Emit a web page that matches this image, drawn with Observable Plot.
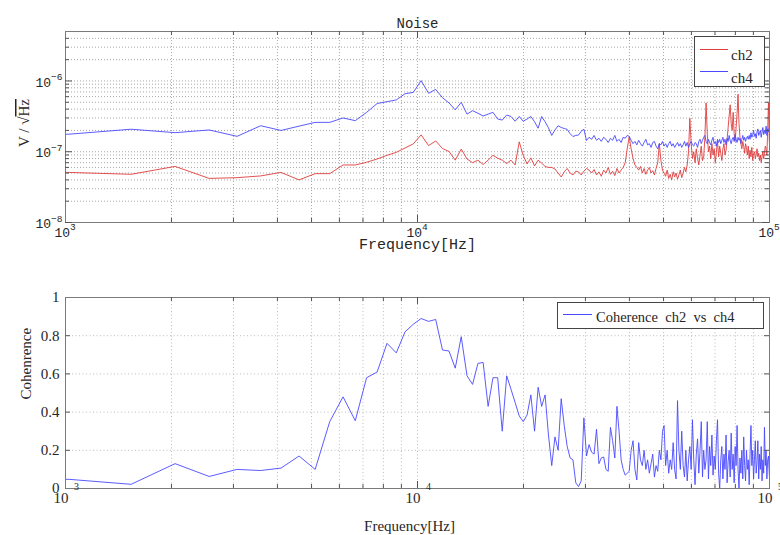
<!DOCTYPE html>
<html><head><meta charset="utf-8">
<script src="https://cdn.jsdelivr.net/npm/d3@7"></script>
<script src="https://cdn.jsdelivr.net/npm/@observablehq/plot@0.6"></script>
<style>
body{margin:0;background:#fff;}
#wrap{position:relative;width:780px;height:535px;overflow:hidden;background:#fff;}
#wrap svg{position:absolute;left:0;overflow:visible;background:transparent;}
</style></head><body><div id="wrap"></div>
<script>
// FFT bin spacing (Hz); bin k sits at k * binHz, k = 1..196
const binHz = 512;

// ch2 noise density, units of 1e-7 V/sqrt(Hz)
const ch2 = [0.5,0.51,0.48,0.62,0.42,0.43,0.455,0.51,0.40,0.49,
0.49,0.65,0.65,0.71,0.79,0.89,0.98,1.13,1.29,1.73,
1.22,1.42,1.11,1.01,0.76,1.09,0.79,0.70,0.76,0.66,
0.76,0.89,0.81,0.76,0.68,0.76,0.65,1.38,0.89,0.67,
0.82,0.63,0.76,0.69,0.62,0.60,0.60,0.57,0.50,0.44,
0.52,0.58,0.50,0.47,0.53,0.52,0.47,0.53,0.58,0.55,
0.5,0.56,0.47,0.52,0.45,0.55,0.5,0.6,0.48,0.53,0.46,0.58,0.5,0.55,0.6,
0.7,1.1,1.62,1.1,0.8,0.65,
0.6,0.55,0.62,0.5,0.58,0.48,0.55,0.6,0.5,0.54,0.47,0.58,0.7,
1.3,0.75,0.55,
0.5,0.45,0.55,0.42,0.48,0.4,0.52,0.44,0.5,0.41,0.47,0.55,0.43,0.5,0.6,0.52,0.65,1.0,
2.95,1.3,0.8,
1.0,0.7,1.1,0.8,0.65,0.9,1.2,0.75,0.85,1.6,
4.9,1.8,1.0,
1.2,0.8,1.3,0.9,1.1,0.7,1.0,1.4,0.85,1.2,0.95,0.75,1.1,1.3,0.9,1.05,1.5,2.2,3.2,
4.6,2.5,2.0,3.6,1.8,1.4,2.2,3.5,6.5,2.5,1.6,
1.3,1.1,1.4,1.2,0.95,1.3,1.15,0.9,1.2,0.8,1.05,0.85,1.15,0.75,0.95,1.0,0.8,0.9,1.1,0.85,
0.95,0.75,0.9,0.7,0.85,1.0,0.8,0.95,1.2,1.1,0.9,2.0,
4.9,1.5,0.9];

// ch4 noise density, units of 1e-7 V/sqrt(Hz)
const ch4 = [1.7,1.77,2.08,1.86,2.03,1.65,2.33,2.0,2.3,2.6,
2.6,3.0,2.75,3.6,4.8,5.1,5.4,6.6,6.9,10.1,
6.7,7.6,5.8,4.9,3.9,5.0,3.4,3.8,3.5,3.2,
3.4,3.6,2.9,2.8,3.3,3.15,2.7,3.15,2.7,2.9,
3.15,2.65,2.15,3.15,2.65,2.18,1.7,2.03,2.33,2.2,
2.13,2.07,1.8,1.64,1.7,1.72,1.95,2.08,1.44,1.6,
1.5,1.7,1.45,1.55,1.4,1.6,1.5,1.35,1.55,1.45,1.7,1.4,1.5,1.35,1.6,1.55,1.7,1.65,1.45,1.3,
1.4,1.25,1.45,1.3,1.2,1.35,1.5,1.25,1.3,1.15,1.35,1.4,1.2,1.1,1.3,1.25,1.4,1.2,1.3,1.15,1.3,1.4,1.2,1.3,1.15,1.25,1.35,1.2,1.3,1.15,
1.25,1.4,1.2,1.35,1.15,1.3,1.4,1.25,1.2,1.35,1.3,1.15,1.4,1.5,1.3,1.45,1.6,1.7,1.4,1.3,1.5,1.35,1.25,1.45,1.6,1.3,1.4,1.2,1.5,1.35,
1.5,1.3,1.45,1.6,1.35,1.5,1.25,1.55,1.4,1.7,1.45,1.3,1.5,1.6,1.4,1.75,1.5,1.35,1.6,1.45,1.55,1.3,1.5,1.7,1.45,1.6,1.4,1.55,1.65,1.5,
1.7,1.5,1.85,1.6,1.75,2.0,1.65,1.8,1.55,1.9,2.1,1.7,1.85,2.0,1.6,1.9,2.2,1.75,2.0,1.8,2.3,1.7,2.1,1.9,2.2,2.0];

// coherence ch2 vs ch4
const coherence = [0.05,0.048,0.022,0.13,0.063,0.10,0.094,0.107,0.17,0.10,
0.35,0.48,0.355,0.58,0.61,0.76,0.71,0.82,0.86,0.89,
0.875,0.885,0.725,0.72,0.63,0.795,0.59,0.545,0.655,0.66,
0.43,0.58,0.58,0.30,0.59,0.52,0.45,0.38,0.35,0.385,
0.49,0.30,0.53,0.43,0.49,0.28,0.12,0.27,0.20,0.47,
0.33,0.22,0.16,0.15,0.03,0.01,0.04,0.37,0.17,0.23,
0.19,0.18,0.31,0.13,0.16,0.165,0.10,0.09,0.32,0.25,
0.16,0.43,0.30,0.15,0.10,0.07,0.08,0.09,0.20,0.25,
0.10,0.045,0.24,0.15,
0.12,0.2,0.1,0.15,0.08,0.13,0.18,0.06,0.12,0.09,
0.2,0.15,0.3,0.33,0.12,0.2,0.08,0.15,0.1,0.24,
0.1,0.05,0.46,0.2,0.1,0.3,0.12,0.06,0.2,0.04,
0.15,0.22,0.1,0.36,0.15,0.02,0.18,0.26,0.08,0.2,
0.35,0.06,0.2,0.1,0.15,0.35,0.05,0.22,0.12,0.28,
0.07,0.17,0.1,0.25,0.36,0.08,0.0,0.15,0.22,0.05,
0.18,0.1,0.28,0.03,0.14,0.2,0.06,0.29,0.1,0.18,
0.03,0.22,0.12,0.33,0.1,0.0,0.16,0.08,0.2,0.05,
0.27,0.12,0.04,0.2,0.1,0.15,0.02,0.18,0.33,0.12,
0.2,0.05,0.15,0.25,0.08,0.14,0.25,0.05,0.18,0.1,
0.22,0.04,0.15,0.08,0.32,0.12,0.2,0.05,0.15,0.17,
0.08,0.01];

// ticks
const xMajor = [1e3, 1e4, 1e5];
const xTickBase = ["10", "10", "10"];
const xTickExp = ["3", "4", "5"];
const xMinor = [2e3,3e3,4e3,5e3,6e3,7e3,8e3,9e3,2e4,3e4,4e4,5e4,6e4,7e4,8e4,9e4];
const xGrid = [2e3,3e3,4e3,5e3,6e3,7e3,8e3,9e3,1e4,2e4,3e4,4e4,5e4,6e4,7e4,8e4,9e4];
const yMajorTop = [1e-8, 1e-7, 1e-6];
const yTickBaseTop = ["10", "10", "10"];
const yTickExpTop = ["\u22128", "\u22127", "\u22126"];
const yMinorTop = [2e-8,3e-8,4e-8,5e-8,6e-8,7e-8,8e-8,9e-8,2e-7,3e-7,4e-7,5e-7,6e-7,7e-7,8e-7,9e-7,2e-6,3e-6,4e-6];
const yGridTop = [2e-8,3e-8,4e-8,5e-8,6e-8,7e-8,8e-8,9e-8,1e-7,2e-7,3e-7,4e-7,5e-7,6e-7,7e-7,8e-7,9e-7,1e-6,2e-6,3e-6,4e-6];
const yTicksBot = [0, 0.2, 0.4, 0.6, 0.8, 1];
const yTickLabelsBot = ["0", "0.2", "0.4", "0.6", "0.8", "1"];
const yGridBot = [0.2, 0.4, 0.6, 0.8];

const rows = ch2.map((v, i) => ({f: (i + 1) * binHz, ch2: v * 1e-7, ch4: ch4[i] * 1e-7, coh: coherence[i]}));

const mono = "'Courier New', 'Liberation Mono', 'DejaVu Sans Mono', monospace";
const serif = "'Liberation Serif', 'DejaVu Serif', serif";
const RED = "#e03c3c", BLUE = "#4848ff";
const txt = "#262626";
const W = 780, ML = 65, MR = 11;
const FW = W - ML - MR;

// ---------- top ----------
const H1 = 262, MT1 = 31, MB1 = 40, FH1 = H1 - MT1 - MB1;
const gridStyle = {stroke: "#a8a8a8", strokeWidth: 1, strokeDasharray: "1,2"};
const tickStyle = {stroke: "#555", strokeWidth: 1};
const topChart = Plot.plot({
  width: W, height: H1, marginLeft: ML, marginRight: MR, marginTop: MT1, marginBottom: MB1,
  x: {type: "log", domain: [1e3, 1e5], axis: null},
  y: {type: "log", domain: [1e-8, 5e-6], axis: null},
  marks: [
    Plot.ruleX(xGrid, {x: d => d, ...gridStyle}),
    Plot.ruleY(yGridTop, {y: d => d, ...gridStyle}),
    Plot.line(rows, {x: "f", y: "ch2", stroke: RED, strokeWidth: 0.9, clip: true}),
    Plot.line(rows, {x: "f", y: "ch4", stroke: BLUE, strokeWidth: 0.9, clip: true}),
    Plot.frame({stroke: "#7a7a7a"}),
    Plot.tickY(yMinorTop, {y: d => d, ...tickStyle, insetRight: FW - 4}),
    Plot.tickY(yMinorTop, {y: d => d, ...tickStyle, insetLeft: FW - 4}),
    Plot.tickY(yMajorTop, {y: d => d, ...tickStyle, insetRight: FW - 7}),
    Plot.tickY(yMajorTop, {y: d => d, ...tickStyle, insetLeft: FW - 7}),
    Plot.tickX(xMinor, {x: d => d, ...tickStyle, insetTop: FH1 - 4}),
    Plot.tickX(xMinor, {x: d => d, ...tickStyle, insetBottom: FH1 - 4}),
    Plot.tickX([1e4], {x: d => d, ...tickStyle, insetTop: FH1 - 7}),
    Plot.tickX([1e4], {x: d => d, ...tickStyle, insetBottom: FH1 - 7}),
    Plot.text(xMajor, {x: d => d, text: xTickBase, frameAnchor: "bottom", textAnchor: "end", dx: 4.5, dy: 14, fontFamily: mono, fontSize: 13, fill: txt}),
    Plot.text(xMajor, {x: d => d, text: xTickExp, frameAnchor: "bottom", textAnchor: "start", dx: 4.5, dy: 7.5, fontFamily: mono, fontSize: 9.5, fill: txt}),
    Plot.text(yMajorTop, {y: d => d, text: yTickBaseTop, frameAnchor: "left", textAnchor: "end", dx: -14.5, dy: 1.5, fontFamily: mono, fontSize: 13, fill: txt}),
    Plot.text(yMajorTop, {y: d => d, text: yTickExpTop, frameAnchor: "left", textAnchor: "end", dx: -3, dy: -4, fontFamily: mono, fontSize: 9.5, fill: txt}),
    Plot.text(["Noise"], {frameAnchor: "top", dy: -13.5, fontFamily: mono, fontSize: 14, fill: txt}),
    Plot.text(["Frequency[Hz]"], {frameAnchor: "bottom", dy: 26.5, fontFamily: mono, fontSize: 15, fill: txt})
  ]
});
topChart.style.top = "0px";

// y label with overline on Hz, and legend
{
  const s = d3.select(topChart);
  const t = s.append("text")
    .attr("transform", "translate(24,123) rotate(-90)")
    .attr("text-anchor", "middle").attr("dominant-baseline", "central")
    .attr("font-family", serif).attr("font-size", 15).attr("fill", txt);
  t.append("tspan").text("V / \u221A");
  t.append("tspan").attr("text-decoration", "overline").text("Hz");
  const g = s.append("g").attr("text-anchor", "start");
  g.append("rect").attr("x", 694.5).attr("y", 36.5).attr("width", 70).attr("height", 50)
    .attr("fill", "#fff").attr("stroke", "#444").attr("stroke-width", 1);
  g.append("line").attr("x1", 700).attr("x2", 728).attr("y1", 49.5).attr("y2", 49.5).attr("stroke", RED);
  g.append("line").attr("x1", 700).attr("x2", 728).attr("y1", 71.5).attr("y2", 71.5).attr("stroke", BLUE);
  g.append("text").attr("x", 731).attr("y", 59.5).attr("text-anchor", "start").attr("font-family", serif).attr("font-size", 15).attr("fill", txt).text("ch2");
  g.append("text").attr("x", 731).attr("y", 82.5).attr("text-anchor", "start").attr("font-family", serif).attr("font-size", 15).attr("fill", txt).text("ch4");
}

// ---------- bottom ----------
const H2 = 273, MT2 = 35, MB2 = 47, FH2 = H2 - MT2 - MB2;
const gridStyle2 = {stroke: "#bdbdbd", strokeWidth: 1, strokeDasharray: "1,2.5"};
const botChart = Plot.plot({
  width: W, height: H2, marginLeft: ML, marginRight: MR, marginTop: MT2, marginBottom: MB2,
  x: {type: "log", domain: [1e3, 1e5], axis: null},
  y: {domain: [0, 1], axis: null},
  marks: [
    Plot.ruleX(xGrid, {x: d => d, ...gridStyle2}),
    Plot.ruleY(yGridBot, {y: d => d, ...gridStyle2}),
    Plot.line(rows, {x: "f", y: "coh", stroke: BLUE, strokeWidth: 0.9, clip: true}),
    Plot.frame({stroke: "#7a7a7a"}),
    Plot.tickY(yGridBot, {y: d => d, ...tickStyle, insetRight: FW - 5}),
    Plot.tickY(yGridBot, {y: d => d, ...tickStyle, insetLeft: FW - 5}),
    Plot.tickX(xMinor, {x: d => d, ...tickStyle, insetTop: FH2 - 4}),
    Plot.tickX(xMinor, {x: d => d, ...tickStyle, insetBottom: FH2 - 4}),
    Plot.tickX([1e4], {x: d => d, ...tickStyle, insetTop: FH2 - 7}),
    Plot.tickX([1e4], {x: d => d, ...tickStyle, insetBottom: FH2 - 7}),
    Plot.text(yTicksBot, {y: d => d, text: yTickLabelsBot, frameAnchor: "left", textAnchor: "end", dx: -6, fontFamily: serif, fontSize: 15, fill: txt}),
    Plot.text(xMajor, {x: d => d, text: xTickBase, frameAnchor: "bottom", dx: -4.5, dy: 14, fontFamily: serif, fontSize: 15, fill: txt}),
    Plot.text(xMajor, {x: d => d, text: xTickExp, frameAnchor: "bottom", dx: 11, dy: 1.5, fontFamily: serif, fontSize: 10, fill: txt}),
    Plot.text(["Frequency[Hz]"], {frameAnchor: "bottom", dx: -8, dy: 42, fontFamily: serif, fontSize: 15, fill: txt}),
    Plot.text(["Cohenrence"], {frameAnchor: "left", rotate: -90, dx: -39.5, dy: 6.5, fontFamily: serif, fontSize: 15, fill: txt})
  ]
});
botChart.style.top = H1 + "px";
{
  const s = d3.select(botChart);
  const g = s.append("g").attr("text-anchor", "start");
  g.append("rect").attr("x", 557.5).attr("y", 40.5).attr("width", 206).attr("height", 26)
    .attr("fill", "#fff").attr("stroke", "#444").attr("stroke-width", 1);
  g.append("line").attr("x1", 563).attr("x2", 592).attr("y1", 52.5).attr("y2", 52.5).attr("stroke", BLUE);
  g.append("text").attr("x", 596).attr("y", 60).attr("text-anchor", "start").attr("font-family", serif).attr("font-size", 14.5)
    .attr("fill", txt).style("white-space", "pre").text("Coherence\u00A0\u00A0ch2\u00A0\u00A0vs\u00A0\u00A0ch4");
}

const wrap = document.getElementById("wrap");
wrap.appendChild(topChart);
wrap.appendChild(botChart);
</script></body></html>
